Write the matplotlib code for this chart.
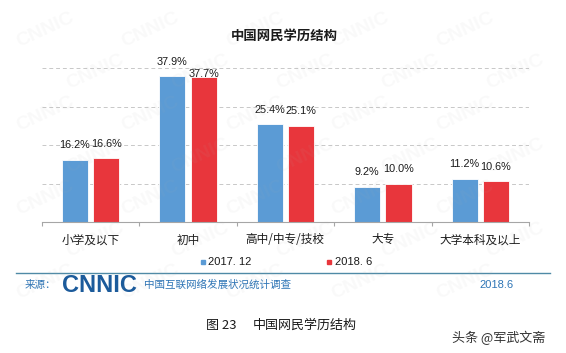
import numpy as np
import matplotlib.pyplot as plt
from matplotlib.patches import Rectangle
from matplotlib.lines import Line2D

categories = ['小学及以下', '初中', '高中/中专/技校', '大专', '大学本科及以上']
dec_2017 = [16.2, 37.9, 25.4, 9.2, 11.2]
jun_2018 = [16.6, 37.7, 25.1, 10.0, 10.6]
series_names = ['2017. 12', '2018. 6']

blue = '#5b9bd5'
red = '#e8363c'
cjk = ['Noto Sans CJK SC', 'DejaVu Sans']
num = ['Liberation Sans', 'Noto Sans CJK SC']

W, H = 566, 353
fig = plt.figure(figsize=(W / 100, H / 100), dpi=100)
fig.patch.set_facecolor('white')


def fx(px):
    return px / W


def fy(py):
    return 1 - py / H


ax = fig.add_axes([fx(41.7), fy(222.3), fx(529) - fx(41.7), (222.3 - 49) / H])
x = np.arange(len(categories))
off, bw = 0.161, 0.267
b1 = ax.bar(x - off, dec_2017, bw, color=blue, edgecolor='white', linewidth=0.6, zorder=2)
b2 = ax.bar(x + off, jun_2018, bw, color=red, edgecolor='white', linewidth=0.6, zorder=2)

ax.set_xlim(-0.5, len(categories) - 0.5)
ax.set_ylim(0, 45)
ax.set_yticks([10, 20, 30, 40])
ax.yaxis.grid(True, color='#c8c8c8', linestyle=(0, (4, 3)), linewidth=0.7)
ax.set_axisbelow(True)
ax.tick_params(axis='y', left=False, labelleft=False)
for s in ['top', 'right', 'left']:
    ax.spines[s].set_visible(False)
ax.spines['bottom'].set_color('#a6a6a6')
ax.spines['bottom'].set_linewidth(0.8)

ax.set_xticks(x)
ax.set_xticklabels(categories, family=cjk, fontsize=8.4, color='#1a1a1a')
ax.tick_params(axis='x', which='major', length=0, pad=8)
ax.set_xticks(np.arange(-0.5, len(categories), 1), minor=True)
ax.tick_params(axis='x', which='minor', length=3, color='#a6a6a6', width=0.8)

# value labels (the 37.7% label sits lower in the source chart)
for bars, vals, shift in [(b1, dec_2017, {}), (b2, jun_2018, {1: -8})]:
    for i, (r, v) in enumerate(zip(bars, vals)):
        ax.annotate(f'{v:.1f}%', (r.get_x() + r.get_width() / 2, v),
                    xytext=(0, 7 + shift.get(i, 0)), textcoords='offset points',
                    ha='center', va='bottom', fontsize=7.8, family=num,
                    color='#1a1a1a', zorder=3)

fig.text(fx(284), fy(36), '中国网民学历结构', family=cjk, fontsize=9.6,
         fontweight='bold', ha='center', va='center', color='#1a1a1a')

# legend
for sx, tx, c, name in [(203, 208, blue, series_names[0]), (329, 335, red, series_names[1])]:
    fig.patches.append(Rectangle((fx(sx - 2), fy(264)), 4 / W, 4 / H,
                                 transform=fig.transFigure, color=c, figure=fig))
    fig.text(fx(tx), fy(262), name, family=num, fontsize=8, ha='left', va='center',
             color='#1a1a1a')

# footer
fig.lines.append(Line2D([fx(16), fx(549.5)], [fy(273.3), fy(273.3)],
                        transform=fig.transFigure, color='#4f8aa6', linewidth=1.0))
fig.text(fx(25), fy(285), '来源：', family=cjk, fontsize=7.6, ha='left', va='center',
         color='#2e75b6')
fig.text(fx(62), fy(285), 'CNNIC', family='Liberation Sans', fontsize=17,
         fontweight='bold', ha='left', va='center', color='#1c5b9b')
fig.text(fx(143.7), fy(285), '中国互联网络发展状况统计调查', family=cjk, fontsize=7.6,
         ha='left', va='center', color='#2e75b6')
fig.text(fx(479), fy(285), '2018.6', family=num, fontsize=8, ha='left', va='center',
         color='#2e75b6')

# caption
fig.text(fx(206.5), fy(325), '图 23', family=cjk, fontsize=9.4, ha='left', va='center',
         color='#1a1a1a')
fig.text(fx(252.7), fy(325), '中国网民学历结构', family=cjk, fontsize=9.4, ha='left',
         va='center', color='#1a1a1a')
fig.text(fx(452), fy(338), '头条 @军武文斋', family=cjk, fontsize=9.4, ha='left',
         va='center', color='#333333')

# faint CNNIC watermark pattern, kept inside the picture
for row, wy in enumerate(range(30, 320, 42)):
    for wx in range(45 + (row % 2) * 50, 530, 105):
        fig.text(fx(wx), fy(wy), 'CNNIC', family='Liberation Sans', fontsize=14,
                 fontweight='bold', rotation=25, color='#b0b0b0', alpha=0.07,
                 ha='center', va='center', zorder=5)

fig.savefig('out.png', dpi=100)
